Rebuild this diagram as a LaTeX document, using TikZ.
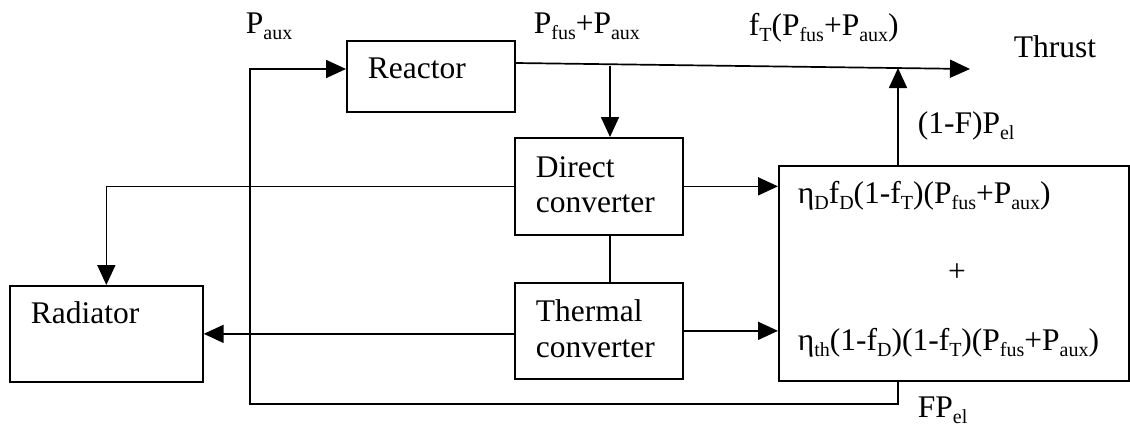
\documentclass[tikz,border=0pt]{standalone}
\usepackage{fontspec}
\setmainfont{Liberation Serif}
\usetikzlibrary{arrows.meta, positioning, calc}
\newcommand{\lw}[1]{\raisebox{-6pt}{\fontsize{20}{20}\selectfont #1}}

\begin{document}
\begin{tikzpicture}[x=1pt, y=-1pt, line width=1.7pt,
    blk/.style={draw, rectangle, inner sep=0pt, anchor=north west},
    lbl/.style={anchor=base west, inner sep=0pt, font=\fontsize{31.5}{36}\selectfont},
    flow/.style={-{Triangle[length=20pt, width=18pt]}}]
    \useasboundingbox (0,0) rectangle (1130,426);

    % --- blocks ---
    \node[blk, minimum width=168pt, minimum height=71pt] (reac) at (346,40) {};
    \node[blk, minimum width=168pt, minimum height=97pt] (dirc) at (514,137) {};
    \node[blk, minimum width=168pt, minimum height=96pt] (ther) at (514,282) {};
    \node[blk, minimum width=193pt, minimum height=96pt] (rad)  at (9,285) {};
    \node[blk, minimum width=350pt, minimum height=215pt] (conv) at (778,165) {};

    % --- block texts ---
    \node[lbl] (reacT)  at (367,78)  {Reactor};
    \node[lbl] (dircT)  at (535,177) {Direct};
    \node[lbl] (dircT2) at (535,212) {converter};
    \node[lbl] (therT)  at (535,321) {Thermal};
    \node[lbl] (therT2) at (535,357) {converter};
    \node[lbl] (radT)   at (30,323)  {Radiator};
    \node[lbl] (convT)  at (797,203) {η\lw{D}f\lw{D}(1-f\lw{T})(P\lw{fus}+P\lw{aux})};
    \node[lbl, anchor=base] (plus) at (957,281) {+};
    \node[lbl] (convT2) at (797,350) {η\lw{th}(1-f\lw{D})(1-f\lw{T})(P\lw{fus}+P\lw{aux})};

    % --- flow labels ---
    \node[lbl] (paux)  at (245,33)  {P\lw{aux}};
    \node[lbl] (ptot)  at (533,33)  {P\lw{fus}+P\lw{aux}};
    \node[lbl] (pthr)  at (748,35)  {f\lw{T}(P\lw{fus}+P\lw{aux})};
    \node[lbl] (thrT)  at (1013,57) {Thrust};
    \node[lbl] (pnet)  at (917,133) {(1-F)P\lw{el}};
    \node[lbl] (prec)  at (917,417) {FP\lw{el}};

    % --- connectors ---
    \coordinate (out)  at (514,63);
    \coordinate (tip)  at (970,69);
    \coordinate (jn)   at (898,68);
    \coordinate (tap)  at (610,66);
    \coordinate (loop) at (250,404);
    \coordinate (inR)  at (0,69);
    \draw[flow] (reac.east |- out) -- (tip);
    \draw[flow] (tap) -- (dirc.north -| tap);
    \draw (dirc.south -| tap) -- (ther.north -| tap);
    \draw[flow] (dirc.east) -- (conv.west |- dirc.east);
    \draw[flow] (ther.east) -- (conv.west |- ther.east);
    \draw[flow] (dirc.west) -| (rad.north);
    \draw[flow] (ther.west |- rad.east) -- (rad.east);
    \draw[flow] (conv.north -| jn) -- (jn);
    \draw[flow] (conv.south -| jn) |- (loop) |- (reac.west |- inR);
\end{tikzpicture}
\end{document}
